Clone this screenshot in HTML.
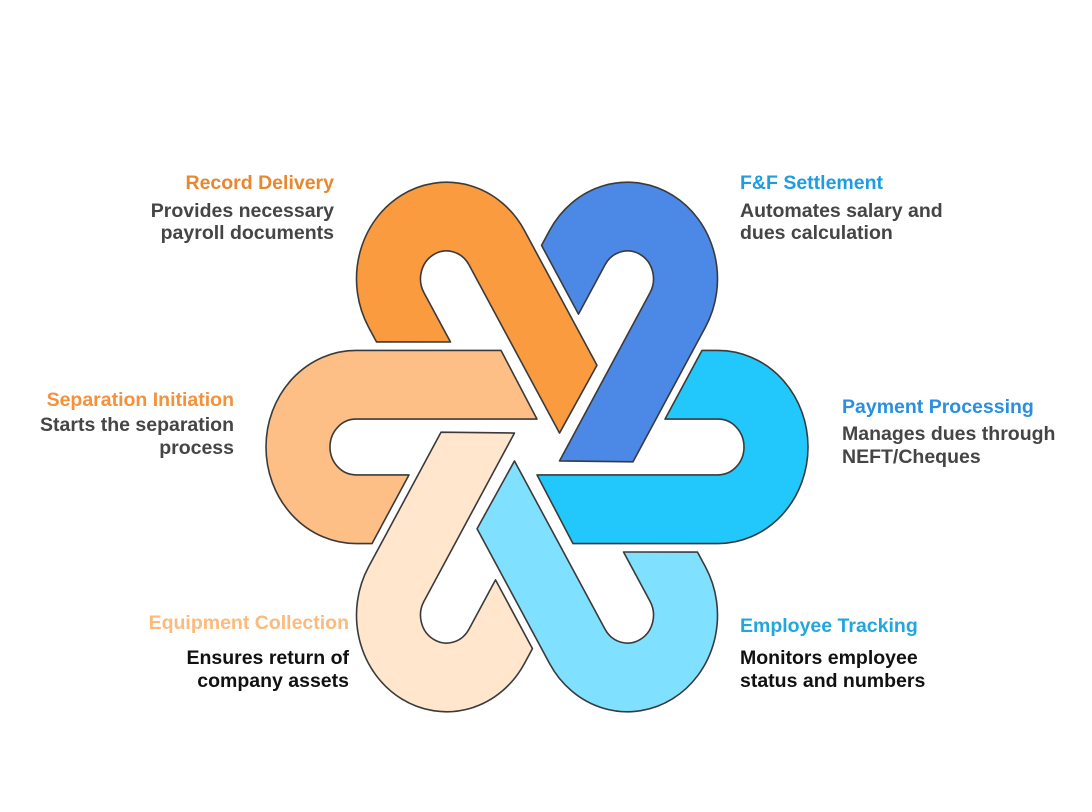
<!DOCTYPE html>
<html><head><meta charset="utf-8"><style>
html,body{margin:0;padding:0;background:#fff;width:1092px;height:812px;overflow:hidden}
svg{position:absolute;left:0;top:0}
text{font-family:"Liberation Sans",sans-serif;font-weight:bold;font-size:19.5px}
.d{fill:#454545}
.k{fill:#111}
</style></head><body>
<svg width="1092" height="812" viewBox="0 0 1092 812">
<defs>
<path id="p" d="M -36,-90 L -181,-90 A 90 90 0 0 0 -181,90 L -165,90 L -128,26 L -181,26 A 26 26 0 0 1 -181,-26 L 0,-26 Z" stroke="#3a3a3a" stroke-width="1.6" vector-effect="non-scaling-stroke" stroke-linejoin="round"/>
</defs>
<g transform="translate(537,447) scale(1,1.073)">
<use href="#p" fill="#FDBF86" transform="rotate(0)"/>
<use href="#p" fill="#FA9B3F" transform="rotate(60)"/>
<use href="#p" fill="#4C88E6" transform="rotate(120)"/>
<use href="#p" fill="#22C8FC" transform="rotate(180)"/>
<use href="#p" fill="#80E0FF" transform="rotate(240)"/>
<use href="#p" fill="#FFE6CD" transform="rotate(300)"/>
</g>
<g text-anchor="end">
<text x="334" y="189" fill="#E8872E">Record Delivery</text>
<text x="334" y="217" class="d">Provides necessary</text>
<text x="334" y="239" class="d">payroll documents</text>
<text x="234" y="406" fill="#F4913A">Separation Initiation</text>
<text x="234" y="431" class="d">Starts the separation</text>
<text x="234" y="454" class="d">process</text>
<text x="349" y="629" fill="#FDBA7C">Equipment Collection</text>
<text x="349" y="664" class="k">Ensures return of</text>
<text x="349" y="687" class="k">company assets</text>
</g>
<g>
<text x="740" y="189" fill="#1E9DE0">F&amp;F Settlement</text>
<text x="740" y="217" class="d">Automates salary and</text>
<text x="740" y="239" class="d">dues calculation</text>
<text x="842" y="413" fill="#2A8FE0">Payment Processing</text>
<text x="842" y="440" class="d">Manages dues through</text>
<text x="842" y="463" class="d">NEFT/Cheques</text>
<text x="740" y="632" fill="#22A6E0">Employee Tracking</text>
<text x="740" y="664" class="k">Monitors employee</text>
<text x="740" y="687" class="k">status and numbers</text>
</g>
</svg>
</body></html>
